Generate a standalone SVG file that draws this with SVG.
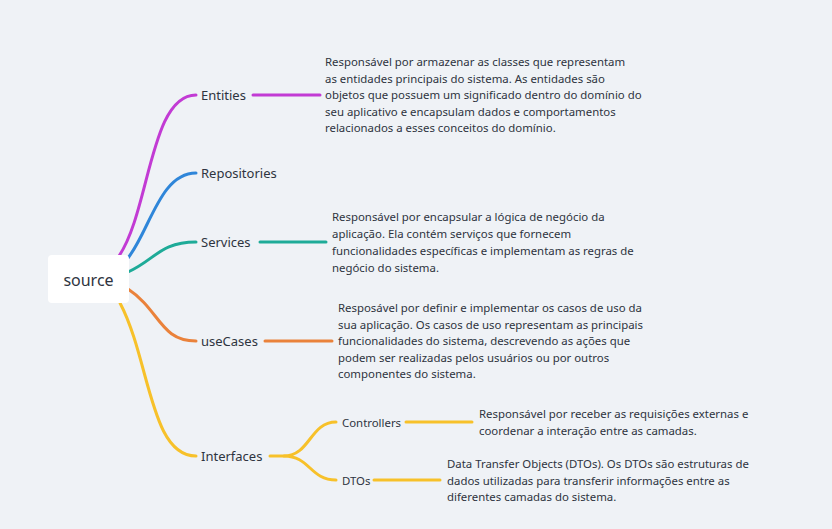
<svg xmlns="http://www.w3.org/2000/svg" width="832" height="529" viewBox="0 0 832 529">
<style>
.c{fill:none;stroke-width:3;stroke-linecap:round}
.lbl{font-family:"Noto Sans","Liberation Sans",sans-serif;font-size:13px;fill:#2e3440}
.sl{font-family:"Noto Sans","Liberation Sans",sans-serif;font-size:11.4px;fill:#2e3440}
.n{font-family:"Noto Sans","Liberation Sans",sans-serif;font-size:11.4px;fill:#2e3440}
</style>
<rect width="832" height="529" fill="#eff2f6"/>
<g id="connectors">
<path class="c" stroke="#c23bd4" d="M119,256 C150,210 150,95 196,95"/>
<path class="c" stroke="#2f86d9" d="M128,258 C150,230 160,173 196,173"/>
<path class="c" stroke="#1eab98" d="M128,272 C155,260 160,242 196,242"/>
<path class="c" stroke="#ea823b" d="M128,289 C160,310 160,341 196,341"/>
<path class="c" stroke="#f7c12a" d="M120,303 C150,360 150,456 196,456"/>
<path class="c" stroke="#c23bd4" d="M253,95 H320"/>
<path class="c" stroke="#1eab98" d="M260,242 H326"/>
<path class="c" stroke="#ea823b" d="M265,341 H332"/>
<path class="c" stroke="#f7c12a" d="M270,456 H284 C310,456 310,422 336,422"/>
<path class="c" stroke="#f7c12a" d="M284,456 C310,456 310,480 336,480"/>
<path class="c" stroke="#f7c12a" d="M406,422 H472"/>
<path class="c" stroke="#f7c12a" d="M374,480 H440"/>
</g>
<g id="source">
<rect x="48" y="255" width="81" height="48" rx="4" fill="#ffffff"/>
<text x="88.5" y="286" text-anchor="middle" font-family="Noto Sans, Liberation Sans, sans-serif" font-size="16" fill="#2e3440">source</text>
</g>
<g id="entities"><text class="lbl" x="201" y="100">Entities</text></g>
<g id="repositories"><text class="lbl" x="201" y="178">Repositories</text></g>
<g id="services"><text class="lbl" x="201" y="247">Services</text></g>
<g id="usecases"><text class="lbl" x="201" y="346">useCases</text></g>
<g id="interfaces"><text class="lbl" x="201" y="461">Interfaces</text></g>
<g id="controllers"><text class="sl" x="342" y="426.5">Controllers</text></g>
<g id="dtos"><text class="sl" x="342" y="484.5">DTOs</text></g>
<g id="entities-note"><text class="n">
<tspan x="325" y="66">Responsável por armazenar as classes que representam</tspan>
<tspan x="325" y="82.5">as entidades principais do sistema. As entidades são</tspan>
<tspan x="325" y="99">objetos que possuem um significado dentro do domínio do</tspan>
<tspan x="325" y="115.5">seu aplicativo e encapsulam dados e comportamentos</tspan>
<tspan x="325" y="132">relacionados a esses conceitos do domínio.</tspan></text></g>
<g id="services-note"><text class="n">
<tspan x="332" y="221">Responsável por encapsular a lógica de negócio da</tspan>
<tspan x="332" y="238">aplicação. Ela contém serviços que fornecem</tspan>
<tspan x="332" y="255">funcionalidades específicas e implementam as regras de</tspan>
<tspan x="332" y="272">negócio do sistema.</tspan></text></g>
<g id="usecases-note"><text class="n">
<tspan x="338" y="312">Resposável por definir e implementar os casos de uso da</tspan>
<tspan x="338" y="329">sua aplicação. Os casos de uso representam as principais</tspan>
<tspan x="338" y="345">funcionalidades do sistema, descrevendo as ações que</tspan>
<tspan x="338" y="362">podem ser realizadas pelos usuários ou por outros</tspan>
<tspan x="338" y="378">componentes do sistema.</tspan></text></g>
<g id="controllers-note"><text class="n">
<tspan x="479" y="418">Responsável por receber as requisições externas e</tspan>
<tspan x="479" y="435">coordenar a interação entre as camadas.</tspan></text></g>
<g id="dtos-note"><text class="n">
<tspan x="447" y="468">Data Transfer Objects (DTOs). Os DTOs são estruturas de</tspan>
<tspan x="447" y="485">dados utilizadas para transferir informações entre as</tspan>
<tspan x="447" y="501">diferentes camadas do sistema.</tspan></text></g>
</svg>
